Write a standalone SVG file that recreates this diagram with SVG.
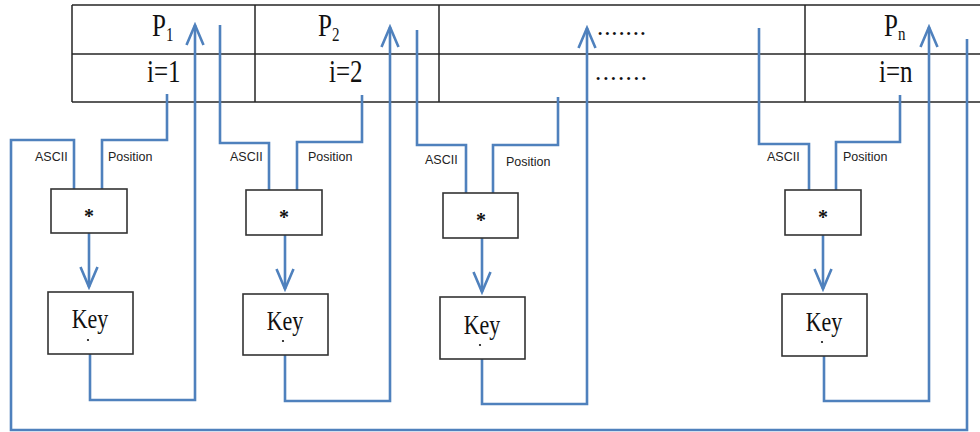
<svg xmlns="http://www.w3.org/2000/svg" width="980" height="432" viewBox="0 0 980 432">
<style>
.tl{stroke:#262626;stroke-width:1.5;fill:none}
.box{fill:#fff;stroke:#333;stroke-width:1.6}
.c{fill:none;stroke:#4f81bd;stroke-width:2.6;stroke-linejoin:miter}
.serif{font-family:"Liberation Serif","Times New Roman",serif;fill:#111}
.big{font-size:25px}
.lbl{font-family:"Liberation Sans",Arial,sans-serif;font-size:12.5px;fill:#222}
.star{font-family:"Liberation Serif",serif;font-size:20px;font-weight:bold;fill:#111;text-anchor:middle}
.key{font-family:"Liberation Serif",serif;font-size:22px;fill:#111;text-anchor:middle}
.dot{fill:#111}
</style>
<defs>
<marker id="ah" markerUnits="userSpaceOnUse" markerWidth="26" markerHeight="24" viewBox="-23 -12 26 24" refX="0" refY="0" orient="auto">
<path d="M-20,-8.5 L0,0 L-20,8.5" fill="none" stroke="#4f81bd" stroke-width="2.6"/>
</marker>
</defs>
<rect width="980" height="432" fill="#fff"/>
<g id="table">
<path class="tl" d="M72,5 H980 M72,54 H980 M72,102 H980 M72,5 V102 M255,5 V102 M439,5 V102 M805,5 V102"/>
<text class="serif big" transform="translate(152,36) scale(1,1.25)">P<tspan font-size="15" dy="4">1</tspan></text>
<text class="serif big" transform="translate(147,82) scale(1,1.25)">i=1</text>
<text class="serif big" transform="translate(318,36) scale(1,1.25)">P<tspan font-size="15" dy="4">2</tspan></text>
<text class="serif big" transform="translate(329,82) scale(1,1.25)">i=2</text>
<text class="serif big" x="597" y="35" textLength="49">.......</text>
<text class="serif big" x="595" y="80" textLength="52">.......</text>
<text class="serif big" transform="translate(884,36) scale(1,1.25)">P<tspan font-size="15" dy="3">n</tspan></text>
<text class="serif big" transform="translate(879,82) scale(1,1.25)">i=n</text>
</g>
<g id="connectors">
<path class="c" d="M967,39 V430 H11 V140 H74 V189"/>
<path class="c" d="M102,189 V140 H167 V94"/>
<path class="c" d="M89,233 V287" marker-end="url(#ah)"/>
<path class="c" d="M90,354 V400 H195 V25" marker-end="url(#ah)"/>
<path class="c" d="M220,25 V143 H269 V190"/>
<path class="c" d="M297,190 V142 H362 V95"/>
<path class="c" d="M285,235 V289" marker-end="url(#ah)"/>
<path class="c" d="M285,355 V401 H390 V27" marker-end="url(#ah)"/>
<path class="c" d="M417,30 V145 H466 V193"/>
<path class="c" d="M493,193 V145 H558 V97"/>
<path class="c" d="M482,238 V292" marker-end="url(#ah)"/>
<path class="c" d="M482,359 V404 H587 V28" marker-end="url(#ah)"/>
<path class="c" d="M759,28 V144 H809 V190"/>
<path class="c" d="M836,190 V142 H900 V95"/>
<path class="c" d="M823,235 V289" marker-end="url(#ah)"/>
<path class="c" d="M824,356 V401 H929 V27" marker-end="url(#ah)"/>
<text class="lbl" x="35" y="161">ASCII</text>
<text class="lbl" x="108" y="161">Position</text>
<text class="lbl" x="230" y="161">ASCII</text>
<text class="lbl" x="308" y="161">Position</text>
<text class="lbl" x="425" y="164">ASCII</text>
<text class="lbl" x="506" y="166">Position</text>
<text class="lbl" x="767" y="161">ASCII</text>
<text class="lbl" x="843" y="161">Position</text>
</g>
<g id="mul1"><rect class="box" x="51" y="189" width="76" height="44"/><text class="star" x="89" y="223">*</text></g>
<g id="key1"><rect class="box" x="48" y="292" width="85" height="62"/><text class="key" transform="translate(90,328) scale(1,1.2)">Key</text><circle class="dot" cx="88" cy="340" r="1.1"/></g>
<g id="mul2"><rect class="box" x="246" y="190" width="76" height="45"/><text class="star" x="284" y="224">*</text></g>
<g id="key2"><rect class="box" x="243" y="294" width="85" height="61"/><text class="key" transform="translate(285,330) scale(1,1.2)">Key</text><circle class="dot" cx="283" cy="341" r="1.1"/></g>
<g id="mul3"><rect class="box" x="443" y="193" width="75" height="45"/><text class="star" x="481" y="227">*</text></g>
<g id="key3"><rect class="box" x="440" y="297" width="85" height="62"/><text class="key" transform="translate(482,334) scale(1,1.2)">Key</text><circle class="dot" cx="480" cy="345" r="1.1"/></g>
<g id="mul4"><rect class="box" x="785" y="190" width="76" height="45"/><text class="star" x="823" y="224">*</text></g>
<g id="key4"><rect class="box" x="782" y="294" width="85" height="62"/><text class="key" transform="translate(824,331) scale(1,1.2)">Key</text><circle class="dot" cx="822" cy="342" r="1.1"/></g>
</svg>
